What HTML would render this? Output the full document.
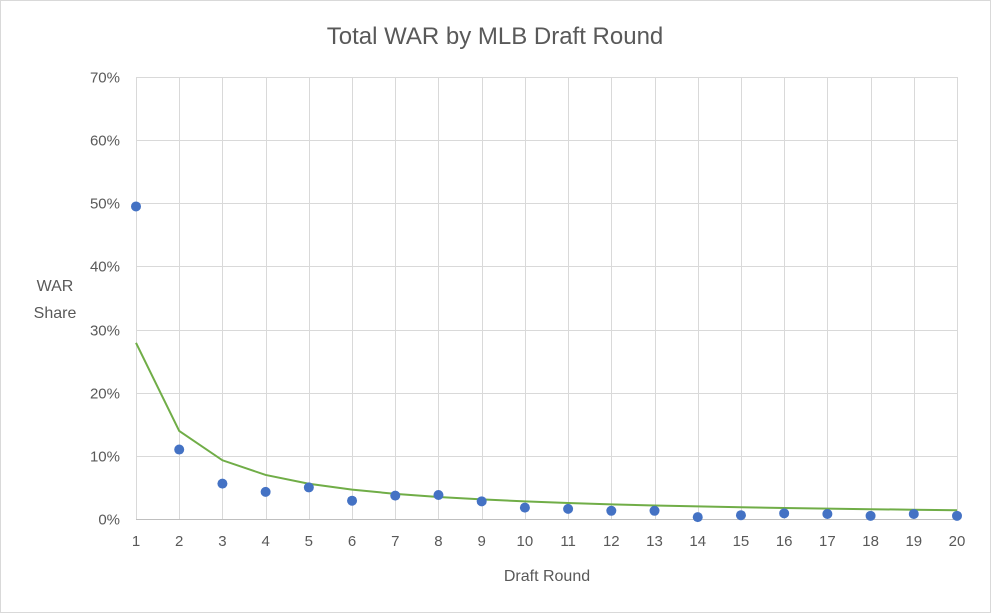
<!DOCTYPE html>
<html><head><meta charset="utf-8"><style>
html,body{margin:0;padding:0;background:#fff;}
svg{display:block;font-family:"Liberation Sans",sans-serif;}
</style></head><body>
<svg width="991" height="613" xmlns="http://www.w3.org/2000/svg">
<rect x="0.5" y="0.5" width="990" height="612" fill="#fff" stroke="#d9d9d9"/>
<text x="495" y="44" font-size="24" fill="#595959" text-anchor="middle">Total WAR by MLB Draft Round</text>
<g stroke="#d9d9d9" stroke-width="1" id="grid"></g>
<g id="ylab" font-size="15" fill="#595959" text-anchor="end"></g>
<g id="xlab" font-size="15" fill="#595959" text-anchor="middle"></g>
<text x="55" y="291" font-size="16" fill="#595959" text-anchor="middle">WAR</text>
<text x="55" y="318" font-size="16" fill="#595959" text-anchor="middle">Share</text>
<text x="547" y="581" font-size="16" fill="#595959" text-anchor="middle">Draft Round</text>
<polyline id="trend" fill="none" stroke="#70ad47" stroke-width="2"/>
<g id="pts" fill="#4472c4"></g>
<script>
var ns="http://www.w3.org/2000/svg";
function X(r){return 136+(r-1)*(957-136)/19;}
function Y(p){return 519-p*(519-77)/70;}
function el(t,a,p,txt){var e=document.createElementNS(ns,t);for(var k in a)e.setAttribute(k,a[k]);if(txt!=null)e.textContent=txt;document.getElementById(p).appendChild(e);}
for(var i=0;i<=7;i++){var y=Math.round(Y(i*10))+0.5;el('line',{x1:136,x2:957,y1:y,y2:y,stroke:i==0?'#bfbfbf':'#d9d9d9'},'grid');el('text',{x:120,y:y+5},'ylab',(i*10)+'%');}
for(var r=1;r<=20;r++){var x=Math.round(X(r))+0.5;el('line',{x1:x,x2:x,y1:77,y2:519},'grid');el('text',{x:X(r),y:546},'xlab',r);}
var d=[49.5,11,5.6,4.3,5,2.9,3.7,3.8,2.8,1.8,1.6,1.3,1.3,0.3,0.6,0.9,0.8,0.5,0.8,0.5];
d.forEach(function(v,i){el('circle',{cx:X(i+1),cy:Y(v),r:5},'pts');});
var pts=[];for(var r=1;r<=20;r++)pts.push(X(r)+','+Y(27.9/r));
document.getElementById('trend').setAttribute('points',pts.join(' '));
</script>
</svg>
</body></html>
